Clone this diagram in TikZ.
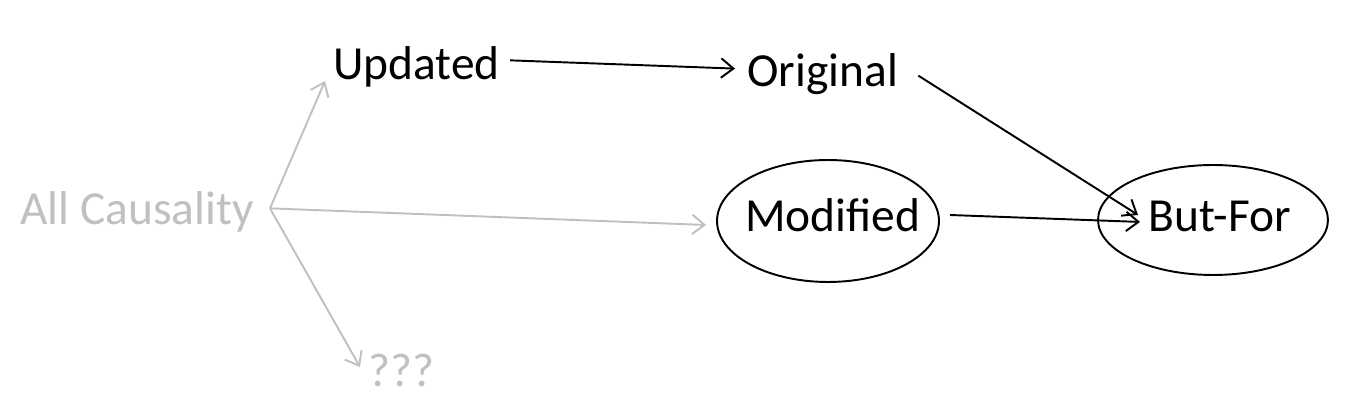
\documentclass[tikz,border=0pt]{standalone}
\usepackage{fontspec}
\setmainfont{Carlito}
\usepackage{tikz}
\usetikzlibrary{calc, positioning, shapes, arrows.meta}
\definecolor{faded}{RGB}{192,192,192}

\begin{document}
\begin{tikzpicture}[x=0.02cm, y=-0.02cm,
    >={Straight Barb[length=7pt,width=11pt]},
    word/.style={inner sep=0pt, anchor=base west, font=\fontsize{27}{32}\selectfont},
    ring/.style={draw, ellipse, line width=1.1pt, inner sep=0pt},
    link/.style={->, line width=1.1pt},
    faint/.style={->, line width=1.1pt, faded}]

      \useasboundingbox (0,0) rectangle (1349,411);

      % text nodes
      \node[word, text=faded] (cause) at (20,225)   {All Causality};
      \node[word]             (upd)   at (333,80)   {Updated};
      \node[word]             (orig)  at (747,87)   {Original};
      \node[word]             (mod)   at (745,232)  {Modified};
      \node[word]             (bf)    at (1148,232) {But-For};
      \node[word, text=faded] (unk)   at (368,387)  {???};

      % ellipses round the chosen kinds
      \node[ring, minimum width=4.44cm, minimum height=2.44cm] (modring) at (828,221)  {};
      \node[ring, minimum width=4.6cm,  minimum height=2.2cm]  (bfring)  at (1213,220) {};

      \coordinate (fork) at ($(cause.east)+(16,-4)$);

      \draw[faint] (fork) -- ($(upd.south west)+(-8,-7)$);
      \draw[faint] (fork) -- ($(modring.west)+(-10,4)$);
      \draw[faint] (fork) -- ($(unk.west)+(-8,-4)$);

      \draw[link] ($(upd.east)+(10,-7)$)     -- ($(orig.west)+(-12,-6)$);
      \draw[link] ($(orig.east)+(20,1)$)     -- ($(bf.west)+(-10,-2)$);
      \draw[link] ($(modring.east)+(10,-6)$) -- ($(bf.west)+(-8,5)$);
    \end{tikzpicture}
\end{document}
